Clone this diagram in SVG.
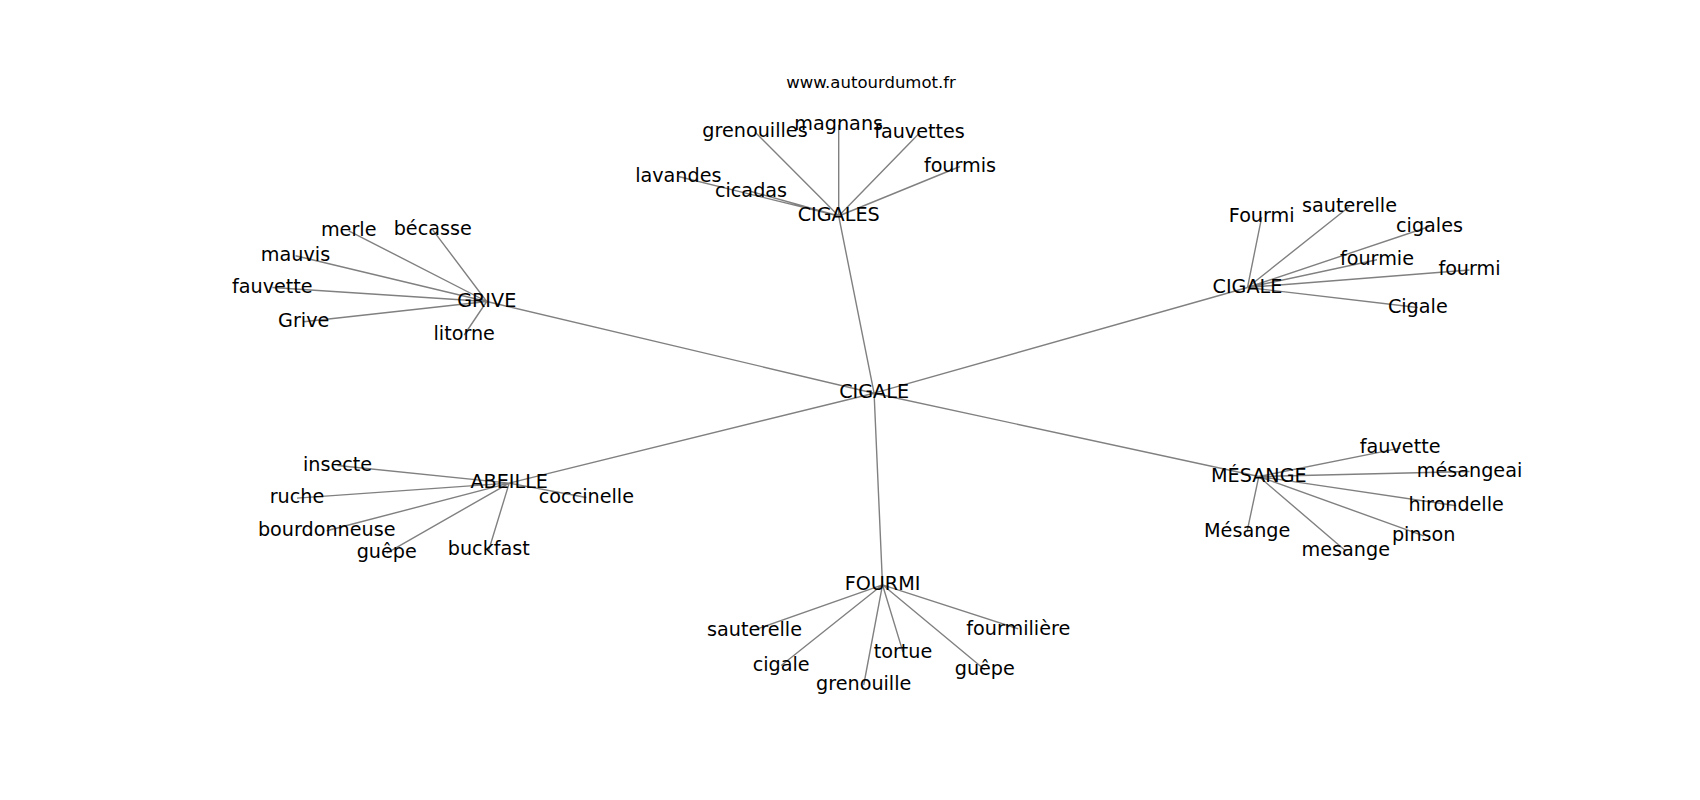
<svg xmlns="http://www.w3.org/2000/svg" width="1700" height="800" viewBox="0 0 1700 800">
<style>
.e{stroke:#808080;stroke-width:1.4;fill:none}
text{font-family:"DejaVu Sans","Liberation Sans",sans-serif;font-size:19.2px;fill:#000;text-anchor:middle}
.t{font-size:16.5px}
</style>
<rect width="1700" height="800" fill="#fff"/>
<text class="t" x="871" y="88.3">www.autourdumot.fr</text>
<g id="connectors">
<path class="e" d="M874.1,393.2L838.7,216M874.1,393.2L486.7,301.5M874.1,393.2L1247.5,287.5M874.1,393.2L509.2,483.1M874.1,393.2L1258.8,476.5M874.1,393.2L882.5,584.8"/>
<path class="e" d="M838.7,216L755,132M838.7,216L838.7,124.8M838.7,216L919.5,133M838.7,216L960,166.5M838.7,216L678.3,176.5M838.7,216L751,191.5"/>
<path class="e" d="M486.7,301.5L348.7,230.8M486.7,301.5L432.7,229.8M486.7,301.5L295.5,255.8M486.7,301.5L272.3,287.5M486.7,301.5L303.7,321.7M486.7,301.5L464.2,335"/>
<path class="e" d="M1247.5,287.5L1261.7,217.1M1247.5,287.5L1349.5,206.5M1247.5,287.5L1429.5,226.5M1247.5,287.5L1377,259.8M1247.5,287.5L1469.5,270M1247.5,287.5L1417.8,307.5"/>
<path class="e" d="M509.2,483.1L337.5,465.5M509.2,483.1L297,498.1M509.2,483.1L326.7,530.8M509.2,483.1L386.7,553.1M509.2,483.1L488.8,550M509.2,483.1L586.4,497.5"/>
<path class="e" d="M1258.8,476.5L1400.2,448.1M1258.8,476.5L1469.5,471.5M1258.8,476.5L1456.2,505.8M1258.8,476.5L1423.7,535.8M1258.8,476.5L1247.2,530.8M1258.8,476.5L1345.8,551"/>
<path class="e" d="M882.5,584.8L754.5,629.8M882.5,584.8L781.2,665.5M882.5,584.8L863.7,685M882.5,584.8L903,652.1M882.5,584.8L984.8,669.8M882.5,584.8L1018.3,628.8"/>
</g>
<g id="n-cigale-center"><text x="874.1" y="398.4">CIGALE</text></g>
<g id="n-cigales"><text x="838.7" y="221.2">CIGALES</text></g>
<g id="n-grenouilles"><text x="755" y="137.2">grenouilles</text></g>
<g id="n-magnans"><text x="838.7" y="130">magnans</text></g>
<g id="n-fauvettes"><text x="919.5" y="138.2">fauvettes</text></g>
<g id="n-fourmis"><text x="960" y="171.7">fourmis</text></g>
<g id="n-lavandes"><text x="678.3" y="181.7">lavandes</text></g>
<g id="n-cicadas"><text x="751" y="196.7">cicadas</text></g>
<g id="n-grive-hub"><text x="486.7" y="306.7">GRIVE</text></g>
<g id="n-merle"><text x="348.7" y="236">merle</text></g>
<g id="n-becasse"><text x="432.7" y="235">bécasse</text></g>
<g id="n-mauvis"><text x="295.5" y="261">mauvis</text></g>
<g id="n-fauvette-g"><text x="272.3" y="292.7">fauvette</text></g>
<g id="n-grive"><text x="303.7" y="326.9">Grive</text></g>
<g id="n-litorne"><text x="464.2" y="340.2">litorne</text></g>
<g id="n-cigale-right"><text x="1247.5" y="292.7">CIGALE</text></g>
<g id="n-fourmi-cap"><text x="1261.7" y="222.3">Fourmi</text></g>
<g id="n-sauterelle-c"><text x="1349.5" y="211.7">sauterelle</text></g>
<g id="n-cigales-l"><text x="1429.5" y="231.7">cigales</text></g>
<g id="n-fourmie"><text x="1377" y="265">fourmie</text></g>
<g id="n-fourmi-l"><text x="1469.5" y="275.3">fourmi</text></g>
<g id="n-cigale-cap"><text x="1417.8" y="312.7">Cigale</text></g>
<g id="n-abeille"><text x="509.2" y="488.3">ABEILLE</text></g>
<g id="n-insecte"><text x="337.5" y="470.7">insecte</text></g>
<g id="n-ruche"><text x="297" y="503.3">ruche</text></g>
<g id="n-bourdonneuse"><text x="326.7" y="536">bourdonneuse</text></g>
<g id="n-guepe-a"><text x="386.7" y="558.3">guêpe</text></g>
<g id="n-buckfast"><text x="488.8" y="555.3">buckfast</text></g>
<g id="n-coccinelle"><text x="586.4" y="502.7">coccinelle</text></g>
<g id="n-mesange-hub"><text x="1258.8" y="481.7">MÉSANGE</text></g>
<g id="n-fauvette-m"><text x="1400.2" y="453.3">fauvette</text></g>
<g id="n-mesangeai"><text x="1469.5" y="477.2">mésangeai</text></g>
<g id="n-hirondelle"><text x="1456.2" y="511">hirondelle</text></g>
<g id="n-pinson"><text x="1423.7" y="541">pinson</text></g>
<g id="n-mesange-cap"><text x="1247.2" y="536.5">Mésange</text></g>
<g id="n-mesange"><text x="1345.8" y="556.3">mesange</text></g>
<g id="n-fourmi-hub"><text x="882.5" y="590">FOURMI</text></g>
<g id="n-sauterelle-f"><text x="754.5" y="635.5">sauterelle</text></g>
<g id="n-cigale-f"><text x="781.2" y="671.2">cigale</text></g>
<g id="n-grenouille"><text x="863.7" y="690.3">grenouille</text></g>
<g id="n-tortue"><text x="903" y="658">tortue</text></g>
<g id="n-guepe-f"><text x="984.8" y="675">guêpe</text></g>
<g id="n-fourmiliere"><text x="1018.3" y="634.5">fourmilière</text></g>
</svg>
